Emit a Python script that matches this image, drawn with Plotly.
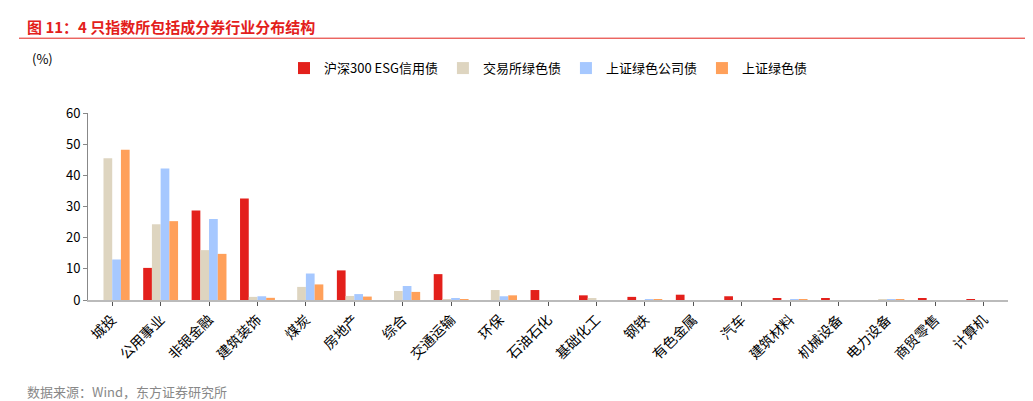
import plotly.graph_objects as go

cats = ["城投","公用事业","非银金融","建筑装饰","煤炭","房地产","综合","交通运输","环保","石油石化","基础化工","钢铁","有色金属","汽车","建筑材料","机械设备","电力设备","商贸零售","计算机"]
s1 = [0,10.3,28.7,32.6,0,9.5,0,8.3,0,3.2,1.5,1.0,1.7,1.2,0.4,0.5,0,0.4,0.2]
s2 = [45.5,24.3,16.0,1.0,4.2,1.3,2.9,0.2,3.2,0,0.5,0,0,0,0,0,0.2,0,0]
s3 = [13.0,42.2,26.0,1.2,8.5,1.9,4.5,0.6,1.2,0,0,0.2,0,0,0.2,0,0.2,0,0]
s4 = [48.2,25.3,14.8,0.7,5.0,1.1,2.6,0.3,1.5,0,0,0.2,0,0,0.2,0,0.2,0,0]
names = ["沪深300 ESG信用债","交易所绿色债","上证绿色公司债","上证绿色债"]
colors = ["#E3201B","#DED5C0","#A6C8FF","#FFA05A"]

fig = go.Figure()
for n, v, c in zip(names, [s1,s2,s3,s4], colors):
    fig.add_bar(x=cats, y=v, name=n, marker=dict(color=c, line=dict(width=0)))

font = "Noto Sans CJK SC"
fig.update_layout(
    width=1033, height=401, margin=dict(l=80, r=33, t=105, b=109),
    plot_bgcolor="white", paper_bgcolor="white",
    font=dict(family=font, size=13, color="black"),
    bargap=0.28, bargroupgap=0,
    legend=dict(orientation="h", x=0.5, xanchor="center", y=1.24, yanchor="middle",
                font=dict(size=13)),
    xaxis=dict(tickangle=-45, showline=True, linecolor="#BBBBBB", linewidth=2,
               ticks="outside", tickcolor="#555", ticklen=4, tickfont=dict(size=14)),
    yaxis=dict(range=[0,60], dtick=10, showgrid=False, showline=True, linecolor="#888",
               ticks="outside", tickcolor="#888", ticklen=4, tickfont=dict(size=13), zeroline=False),
    showlegend=True,
)
fig.add_annotation(text="<b>图 11：4 只指数所包括成分券行业分布结构</b>", xref="paper", yref="paper",
                   x=-0.068, y=1.465, xanchor="left", yanchor="middle", showarrow=False,
                   font=dict(size=15, color="#E3201B", family=font))
fig.add_annotation(text="(%)", xref="paper", yref="paper", x=-0.063, y=1.294,
                   xanchor="left", yanchor="middle", showarrow=False, font=dict(size=13))
fig.add_annotation(text="数据来源：Wind，东方证券研究所", xref="paper", yref="paper",
                   x=-0.068, y=-0.487, xanchor="left", yanchor="middle", showarrow=False,
                   font=dict(size=13, color="#888"))
fig.add_shape(type="line", xref="paper", yref="paper", x0=-0.075, x1=1.03, y0=1.40, y1=1.40,
              line=dict(color="#E3201B", width=1))
fig.add_shape(type="line", xref="paper", yref="paper", x0=-0.075, x1=1.03, y0=-0.56, y1=-0.56,
              line=dict(color="#E3201B", width=1))
fig.write_html("out.html")
